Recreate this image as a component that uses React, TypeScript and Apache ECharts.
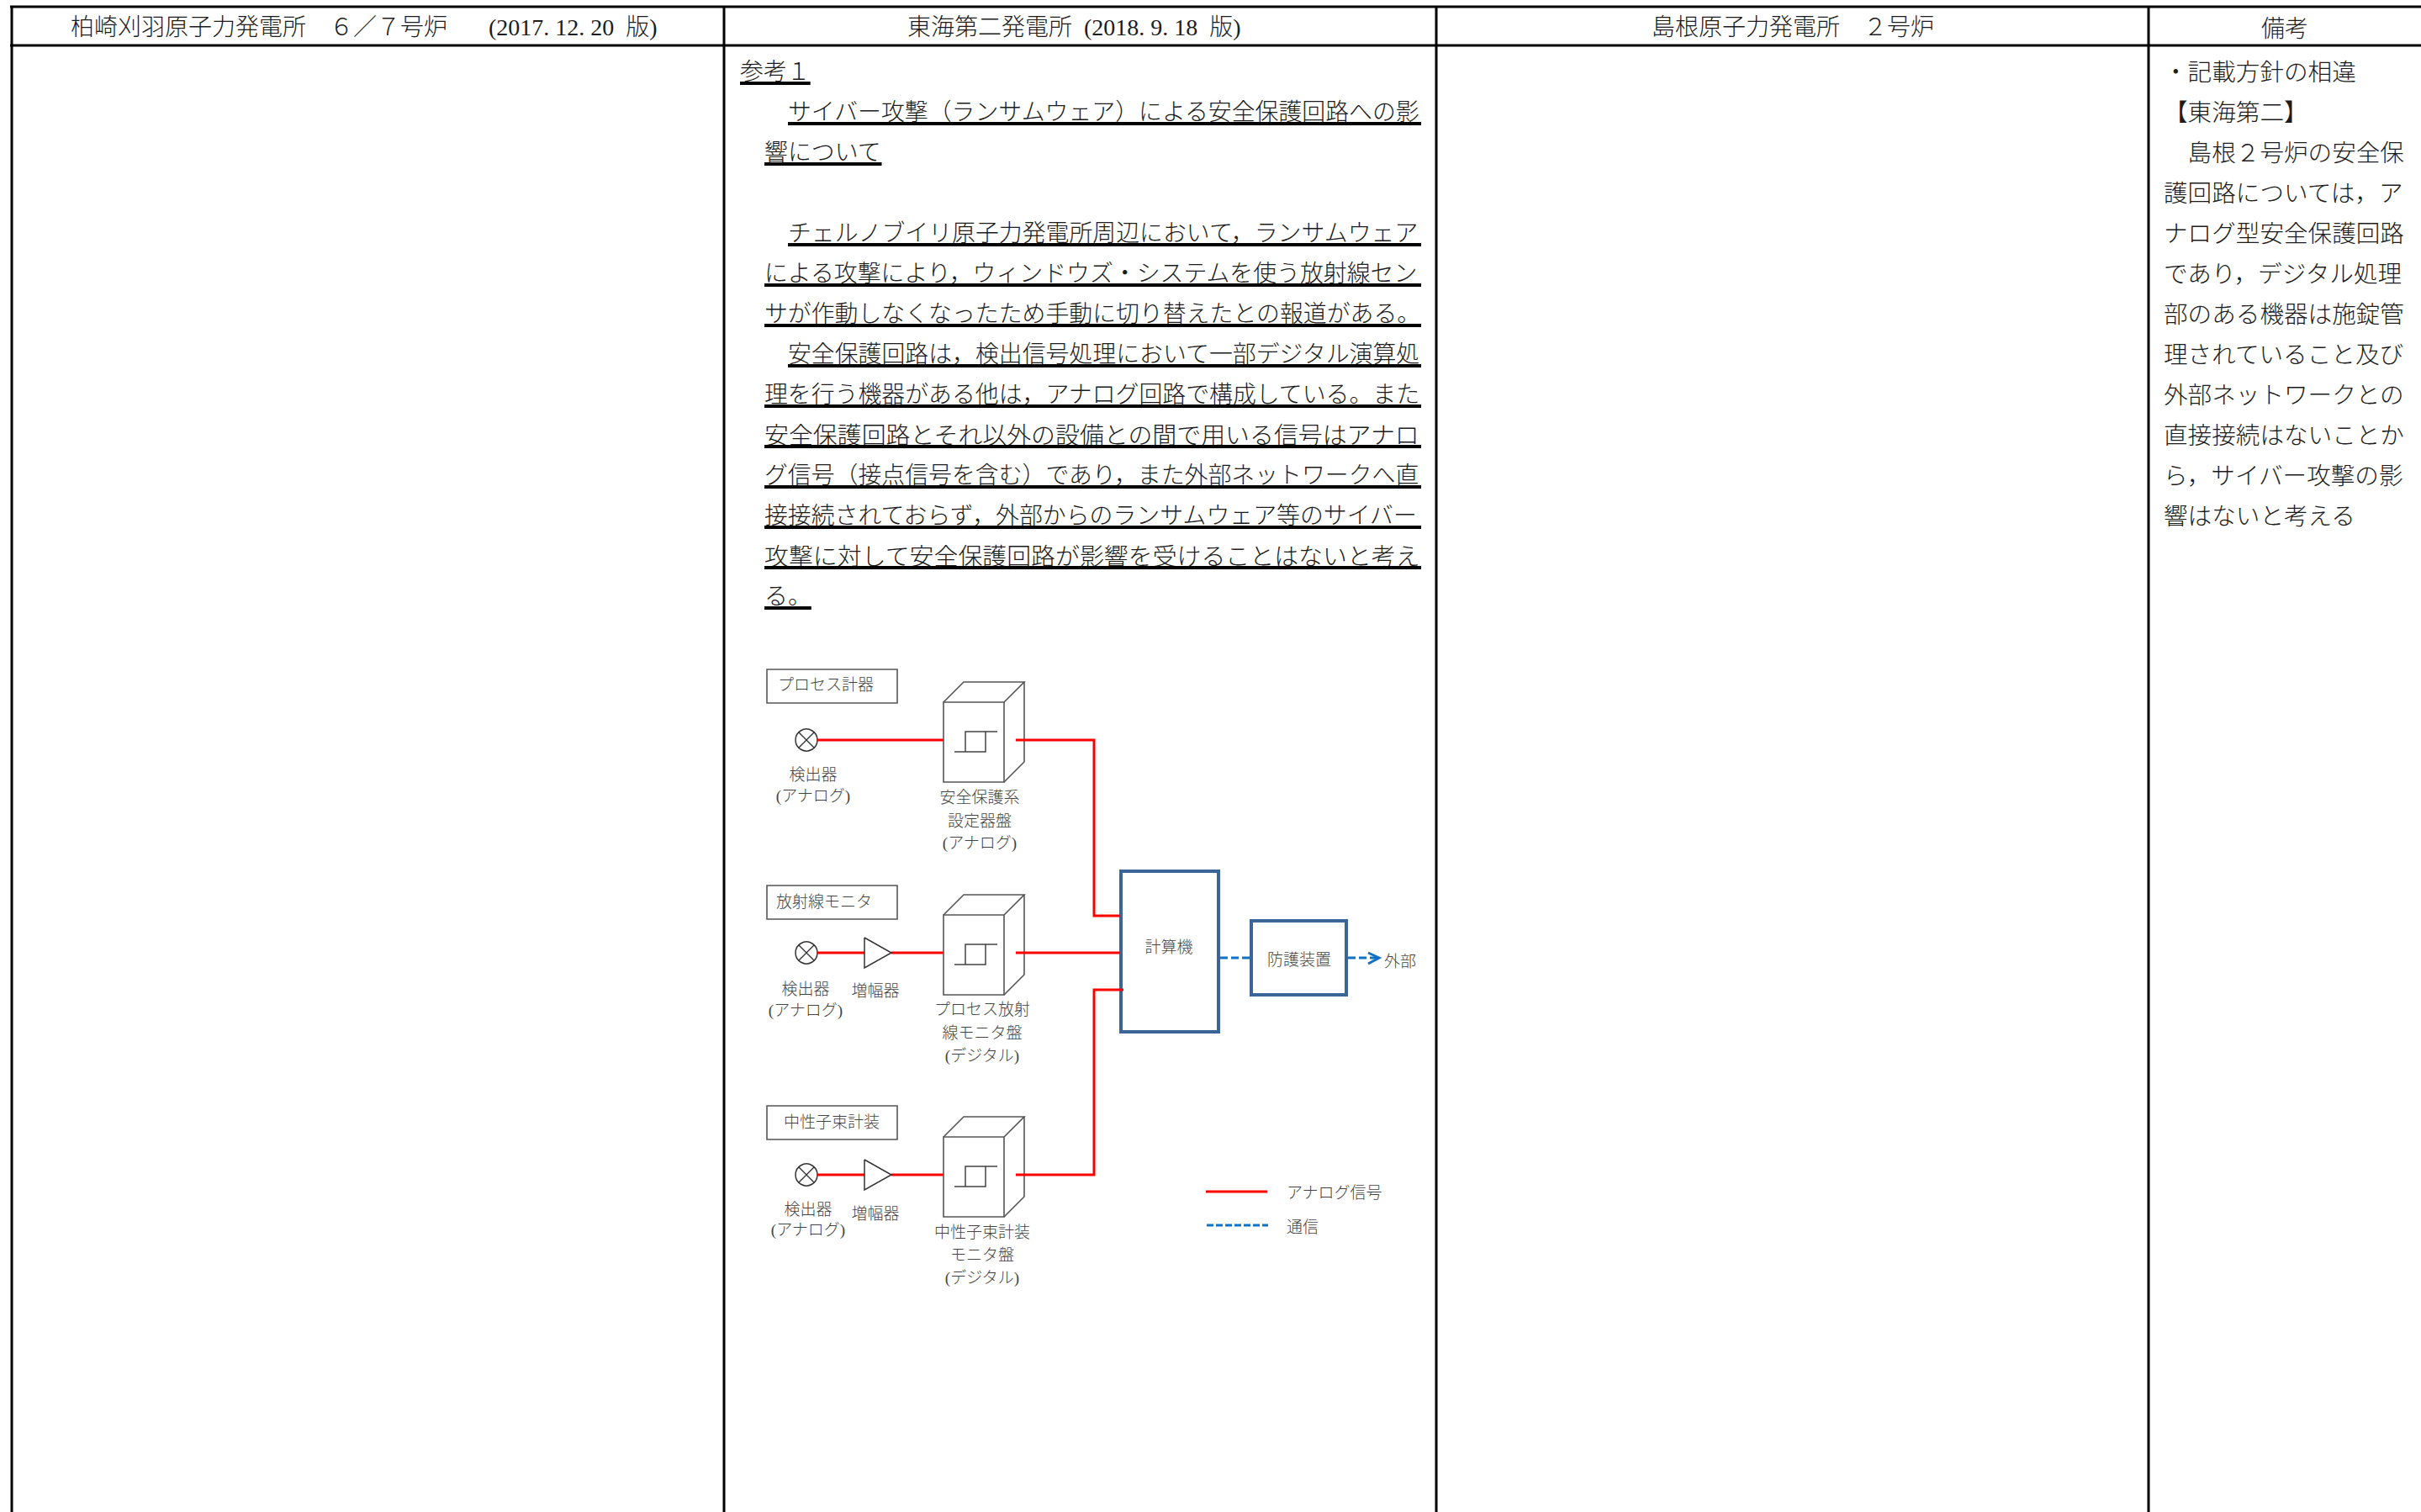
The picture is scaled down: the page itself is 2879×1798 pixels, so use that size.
import React, { useEffect, useRef } from "react";
import * as echarts from "echarts";

const W = 2879;
const H = 1798;

const headers = [
  "柏崎刈羽原子力発電所\u3000\uFF16\uFF0F\uFF17号炉\u3000   (2017. 12. 20  版)",
  "東海第二発電所  (2018. 9. 18  版)",
  "島根原子力発電所\u3000\uFF12号炉",
  "備考",
];
const bodyLines = [
  "参考\uFF11",
  "サイバー攻撃\uFF08ランサムウェア\uFF09による安全保護回路への影",
  "響について",
  "",
  "チェルノブイリ原子力発電所周辺において\uFF0Cランサムウェア",
  "による攻撃により\uFF0Cウィンドウズ・システムを使う放射線セン",
  "サが作動しなくなったため手動に切り替えたとの報道がある。",
  "安全保護回路は\uFF0C検出信号処理において一部デジタル演算処",
  "理を行う機器がある他は\uFF0Cアナログ回路で構成している。また",
  "安全保護回路とそれ以外の設備との間で用いる信号はアナロ",
  "グ信号\uFF08接点信号を含む\uFF09であり\uFF0Cまた外部ネットワークへ直",
  "接接続されておらず\uFF0C外部からのランサムウェア等のサイバー",
  "攻撃に対して安全保護回路が影響を受けることはないと考え",
  "る。",
];
const remarkLines = [
  "・記載方針の相違",
  "【東海第二】",
  "\u3000島根\uFF12号炉の安全保",
  "護回路については\uFF0Cア",
  "ナログ型安全保護回路",
  "であり\uFF0Cデジタル処理",
  "部のある機器は施錠管",
  "理されていること及び",
  "外部ネットワークとの",
  "直接接続はないことか",
  "ら\uFF0Cサイバー攻撃の影",
  "響はないと考える",
];
const groupNames = ["プロセス計器", "放射線モニタ", "中性子束計装"];
const detectorName = "検出器";
const detectorKind = "(アナログ)";
const amplifierName = "増幅器";
const panelNames = [
  ["安全保護系", "設定器盤", "(アナログ)"],
  ["プロセス放射", "線モニタ盤", "(デジタル)"],
  ["中性子束計装", "モニタ盤", "(デジタル)"],
];
const computerName = "計算機";
const protectName = "防護装置";
const outsideName = "外部";
const legendNames = ["アナログ信号", "通信"];

const JP = '"Noto Sans CJK JP"';
const MIX = '"Liberation Serif","Noto Sans CJK JP"';
const RED = "#ff0000";
const NAVY = "#3a6596";
const BLUE = "#0f72c4";
const GREY = "#555555";
const TXT = "#1c1c1c";
const DTXT = "#444444";

function text(s: string, x: number, y: number, size: number, align = "left", fill = TXT, family = JP) {
  return {
    type: "text",
    silent: true,
    style: {
      text: s,
      x,
      y,
      fill,
      font: `300 ${size}px ${family}`,
      textAlign: align,
      textVerticalAlign: "middle",
    },
  };
}
function line(pts: number[][], stroke: string, lineWidth: number, dash?: number[]) {
  return {
    type: "polyline",
    silent: true,
    shape: { points: pts },
    style: { stroke, lineWidth, fill: "none", lineDash: dash, lineJoin: "miter" },
  };
}
function box(x0: number, y0: number, x1: number, y1: number, stroke: string, lineWidth: number) {
  return line([[x0, y0], [x1, y0], [x1, y1], [x0, y1], [x0, y0 - lineWidth / 2]], stroke, lineWidth);
}

function buildElements() {
  const els: any[] = [];
  // table
  els.push(line([[12, 8], [W, 8]], "#000", 3));
  els.push(line([[12, 54], [W, 54]], "#000", 3));
  [14, 861, 1708, 2555].forEach((x) => els.push(line([[x, 7], [x, H]], "#000", 3)));

  // header texts
  [84, 1079, 1964].forEach((x, i) => els.push(text(headers[i], x, 32, 28, "left", TXT, MIX)));
  els.push(text(headers[3], 2717, 32, 28, "center"));

  // body
  const pitch = 27.9;
  bodyLines.forEach((s, i) => {
    if (!s) return;
    const y = 83 + i * 48;
    const indented = i === 1 || i === 4 || i === 7;
    const x0 = i === 0 ? 880 : indented ? 937 : 909;
    const full = i > 0 && s.length >= 26;
    const x1 = full ? 1690 : x0 + s.length * pitch;
    const size = full ? (x1 - x0) / s.length : pitch;
    els.push(text(s, x0, y, size));
    els.push(line([[x0, y + 16], [x1, y + 16]], "#000", 4));
  });

  // remarks
  remarkLines.forEach((s, i) => els.push(text(s, 2573, 83 + i * 48, 28.6)));

  // diagram rows
  const topBox = [796, 1053, 1315];
  const ys = [880, 1133, 1397];
  const detLabel = [[967, 919, 946], [958, 1174, 1201], [961, 1436, 1462]];
  const ampLabel = [0, 1176, 1441];
  const grpLabel = [[982, 812], [980, 1070], [989, 1332]];
  const panelLabel = [[948, 976, 1002], [1200, 1228, 1255], [1465, 1492, 1519]];
  ys.forEach((y, i) => {
    els.push(box(912, topBox[i], 1067, topBox[i] + 40, GREY, 1.6));
    els.push(text(groupNames[i], grpLabel[i][0], grpLabel[i][1], 19, "center", DTXT));
    // detector
    els.push({
      type: "circle",
      silent: true,
      shape: { cx: 959, cy: y, r: 13 },
      style: { stroke: "#333", lineWidth: 1.5, fill: "none" },
    });
    const d = 9.2;
    els.push(line([[959 - d, y - d], [959 + d, y + d]], "#333", 1.3));
    els.push(line([[959 - d, y + d], [959 + d, y - d]], "#333", 1.3));
    els.push(text(detectorName, detLabel[i][0], detLabel[i][1], 19, "center", DTXT));
    els.push(text(detectorKind, detLabel[i][0], detLabel[i][2], 19, "center", DTXT, MIX));
    // signal
    if (i === 0) {
      els.push(line([[972, y], [1122, y]], RED, 3));
    } else {
      els.push(line([[972, y], [1028, y]], RED, 3));
      els.push(line([[1060, y], [1122, y]], RED, 3));
      els.push(line([[1028, y - 18], [1060, y], [1028, y + 18], [1028, y - 18]], "#333", 1.5));
      els.push(text(amplifierName, 1041, ampLabel[i], 19, "center", DTXT));
    }
    // cabinet
    const t = y - 45;
    const s = 1122;
    const e = 1194;
    const b = t + 95;
    els.push(box(s, t, e, b, GREY, 1.6));
    els.push(line([[s, t], [s + 24, t - 24], [e + 24, t - 24], [e, t]], GREY, 1.6));
    els.push(line([[e + 24, t - 24], [e + 24, b - 24], [e, b]], GREY, 1.6));
    els.push(line([[s + 13, t + 59], [s + 50, t + 59], [s + 50, t + 35], [s + 64, t + 35]], "#444", 1.5));
    els.push(line([[s + 26, t + 59], [s + 26, t + 35], [s + 50, t + 35]], "#444", 1.5));
    panelNames[i].forEach((p, k) =>
      els.push(text(p, i === 0 ? 1165 : 1168, panelLabel[i][k], 19, "center", DTXT, MIX)),
    );
  });

  // computer and protection device
  els.push(box(1333, 1036, 1449, 1227, NAVY, 4));
  els.push(box(1488, 1095, 1601, 1183, NAVY, 4));
  els.push(text(computerName, 1390, 1124, 19, "center", DTXT));
  els.push(text(protectName, 1545, 1139, 19, "center", DTXT));

  // trunk signals
  els.push(line([[1208, 880], [1301, 880], [1301, 1089], [1332, 1089]], RED, 3));
  els.push(line([[1208, 1133], [1332, 1133]], RED, 3));
  els.push(line([[1208, 1397], [1301, 1397], [1301, 1177], [1336, 1177]], RED, 3));

  // communication
  els.push(line([[1451, 1139], [1487, 1139]], BLUE, 3, [9, 4]));
  els.push(line([[1603, 1139], [1638, 1139]], BLUE, 3, [9, 4]));
  els.push(line([[1627, 1133], [1640, 1139], [1627, 1146]], BLUE, 3));
  els.push(text(outsideName, 1665, 1141, 19, "center", DTXT));

  // legend
  els.push(line([[1434, 1417], [1507, 1417]], RED, 3));
  els.push(line([[1435, 1457], [1508, 1457]], BLUE, 3, [8, 3]));
  els.push(text(legendNames[0], 1530, 1416, 19, "left", DTXT));
  els.push(text(legendNames[1], 1530, 1457, 19, "left", DTXT));
  return els;
}

export default function App() {
  const ref = useRef<HTMLDivElement>(null);
  useEffect(() => {
    document.body.style.margin = "0";
    document.body.style.overflow = "hidden";
    document.body.style.background = "#fff";
    const chart = echarts.init(ref.current!, undefined, { renderer: "svg", width: W, height: H });
    chart.setOption({
      animation: false,
      backgroundColor: "#ffffff",
      graphic: { elements: buildElements() },
    });
    return () => chart.dispose();
  }, []);
  return <div ref={ref} style={{ width: W, height: H }} />;
}
